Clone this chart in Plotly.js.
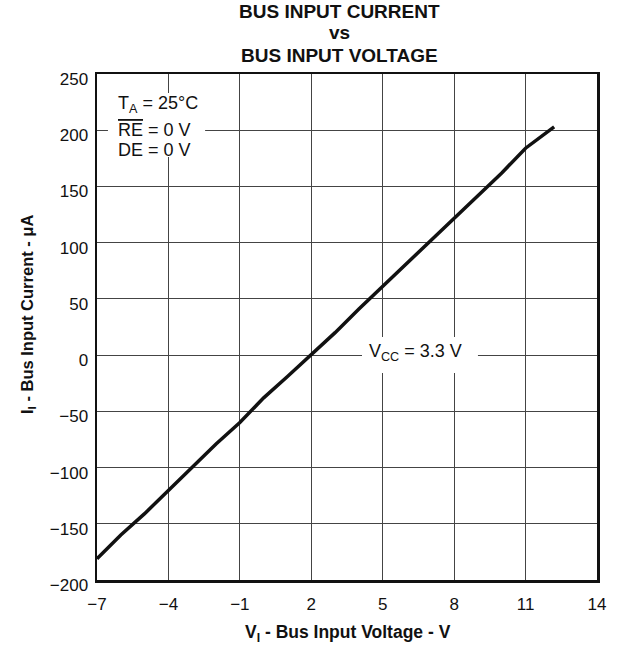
<!DOCTYPE html>
<html>
<head>
<meta charset="utf-8">
<script src="https://cdn.plot.ly/plotly-3.0.1.min.js"></script>
<style>html,body{margin:0;padding:0;background:#fff;}#chart{width:618px;height:652px;}</style>
</head>
<body>
<div id="chart"></div>
<script>
// Data
const voltage = [-7, -6, -5, -4, -3, -2, -1, 0, 1, 2, 3, 4, 5, 6, 7, 8, 9, 10, 11, 12.2];
const current = [-181, -160, -141, -120, -100, -79, -60, -38, -19, 0, 20, 41, 61, 81, 102, 121, 142, 162, 184, 203];
const xTicks = [-7, -4, -1, 2, 5, 8, 11, 14];
const yTicks = [-200, -150, -100, -50, 0, 50, 100, 150, 200, 250];
const titleLines = ['BUS INPUT CURRENT', 'vs', 'BUS INPUT VOLTAGE'];
const conditionLines = ['T<sub>A</sub> = 25°C', '<span style="text-decoration:overline">RE</span> = 0 V', 'DE = 0 V'];
const curveLabel = 'V<sub>CC</sub> = 3.3 V';

const FONT = '"Liberation Sans", Arial, Helvetica, sans-serif';
const INK = '#111';

const trace = {
  x: voltage, y: current, type: 'scatter', mode: 'lines',
  line: {color: INK, width: 3.5}, hoverinfo: 'skip'
};

const titleY = [1.1237, 1.0822, 1.0368];
const condY = [222.5, 200.4, 182.6];

const annotations = [];
titleLines.forEach((t, i) => annotations.push({
  xref: 'paper', yref: 'paper', x: 0.484, y: titleY[i], xanchor: 'center', yanchor: 'middle',
  showarrow: false, text: '<b>' + t + '</b>', font: {family: FONT, size: 19, color: INK}
}));
conditionLines.forEach((t, i) => annotations.push({
  xref: 'x', yref: 'y', x: -6.2, y: condY[i], xanchor: 'left', yanchor: 'middle',
  showarrow: false, text: t, font: {family: FONT, size: 18, color: INK}
}));
annotations.push({
  xref: 'x', yref: 'y', x: 4.33, y: 2, xanchor: 'left', yanchor: 'middle',
  showarrow: false, text: curveLabel, font: {family: FONT, size: 18, color: INK}
});
annotations.push({
  xref: 'paper', yref: 'paper', x: 0.502, y: -0.1067, xanchor: 'center', yanchor: 'middle',
  showarrow: false, text: '<b>V<sub>I</sub> - Bus Input Voltage - V</b>', font: {family: FONT, size: 17.5, color: INK}
});
annotations.push({
  xref: 'paper', yref: 'paper', x: -0.138, y: 0.5237, xanchor: 'center', yanchor: 'middle', textangle: -90,
  showarrow: false, text: '<b>I<sub>I</sub> - Bus Input Current - μA</b>', font: {family: FONT, size: 16.5, color: INK}
});

const layout = {
  width: 618, height: 652,
  margin: {l: 97, r: 21, t: 74, b: 72},
  paper_bgcolor: '#fff', plot_bgcolor: '#fff',
  showlegend: false,
  font: {family: FONT, color: INK, size: 17},
  xaxis: {
    range: [-7, 14], tickmode: 'array', tickvals: xTicks,
    showgrid: true, gridcolor: '#444', gridwidth: 1, zeroline: false,
    showline: true, mirror: true, linecolor: INK, linewidth: 2.5,
    ticks: '', tickfont: {size: 17, family: FONT, color: INK}, ticklabelstandoff: 7
  },
  yaxis: {
    range: [-200, 250], tickmode: 'array', tickvals: yTicks,
    showgrid: true, gridcolor: '#444', gridwidth: 1, zeroline: false,
    showline: true, mirror: true, linecolor: INK, linewidth: 2.5,
    ticks: '', tickfont: {size: 17, family: FONT, color: INK}, ticklabelstandoff: 3, ticklabelshift: 5
  },
  shapes: [
    {type: 'rect', xref: 'x', yref: 'y', x0: -6.54, x1: -2.46, y0: 176.2, y1: 233.1,
     fillcolor: '#fff', line: {width: 0}, layer: 'between'},
    {type: 'rect', xref: 'x', yref: 'y', x0: 4.13, x1: 9.0, y0: -15.9, y1: 16.1,
     fillcolor: '#fff', line: {width: 0}, layer: 'between'}
  ],
  annotations: annotations
};

Plotly.newPlot('chart', [trace], layout, {displayModeBar: false, staticPlot: true});
</script>
</body>
</html>
